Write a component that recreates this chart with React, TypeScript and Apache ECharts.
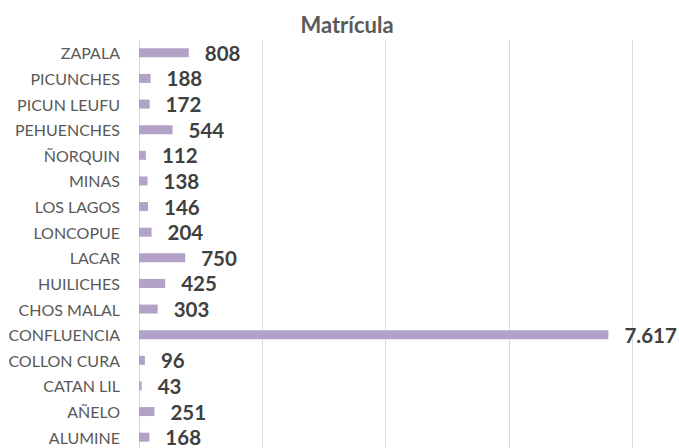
import React, { useEffect, useRef } from "react";
import * as echarts from "echarts";

const categories = [
  "ALUMINE", "AÑELO", "CATAN LIL", "COLLON CURA", "CONFLUENCIA", "CHOS MALAL",
  "HUILICHES", "LACAR", "LONCOPUE", "LOS LAGOS", "MINAS", "ÑORQUIN",
  "PEHUENCHES", "PICUN LEUFU", "PICUNCHES", "ZAPALA",
];
const values = [168, 251, 43, 96, 7617, 303, 425, 750, 204, 146, 138, 112, 544, 172, 188, 808];
const title = "Matrícula";

const fmt = (v: number) => v.toString().replace(/\B(?=(\d{3})+(?!\d))/g, ".");

export default function App() {
  const ref = useRef<HTMLDivElement>(null);
  useEffect(() => {
    if (!ref.current) return;
    const chart = echarts.init(ref.current, null, { renderer: "svg" });
    chart.setOption({
      animation: false,
      title: {
        text: title,
        left: 342,
        textAlign: "center",
        top: 8,
        textStyle: { fontFamily: "Lato", fontSize: 22, fontWeight: "bold", color: "#595959" },
      },
      grid: { left: 139, right: 47, top: 40, height: 410, containLabel: false, outerBoundsMode: "none" },
      xAxis: {
        type: "value",
        min: 0,
        max: 8000,
        interval: 2000,
        axisLabel: { show: false },
        axisLine: { show: false },
        axisTick: { show: false },
        splitLine: { show: true, lineStyle: { color: "#d9d9d9", width: 1 } },
      },
      yAxis: {
        type: "category",
        data: categories,
        axisLine: { show: false },
        axisTick: { show: false },
        axisLabel: {
          margin: 19,
          fontFamily: "Lato",
          fontSize: 16,
          color: "#595959",
        },
      },
      series: [
        {
          type: "bar",
          data: values,
          barWidth: 9,
          itemStyle: { color: "#b3a2c7" },
          label: {
            show: true,
            position: "right",
            distance: 16,
            formatter: (p: any) => fmt(p.value),
            fontFamily: "Lato",
            fontSize: 20.5,
            fontWeight: "bold",
            color: "#404040",
          },
        },
      ],
    });
    return () => chart.dispose();
  }, []);
  return (
    <div
      ref={ref}
      style={{ position: "absolute", left: 0, top: 0, width: 679, height: 448, background: "#fff" }}
    />
  );
}
